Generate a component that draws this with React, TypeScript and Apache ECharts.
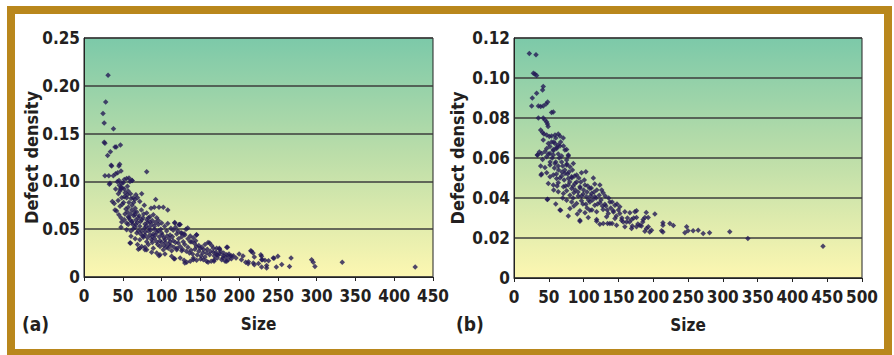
import { useEffect, useRef } from 'react';
import * as echarts from 'echarts';

// Chart (a): size vs defect density
const pointsA: [number, number][] = [
  [31, 0.211], [28, 0.183], [24.5, 0.171], [26, 0.161], [38, 0.155], [26, 0.141], [27, 0.14], [40, 0.136], [41.5, 0.136], [47, 0.138],
  [34, 0.131], [30.5, 0.127], [35, 0.117], [35.7, 0.116], [45, 0.116], [46, 0.118], [47.7, 0.111], [80.8, 0.11], [27, 0.106], [32, 0.106],
  [37.8, 0.106], [40.8, 0.108], [43.4, 0.109], [52, 0.102], [55, 0.103], [58, 0.1035], [62, 0.101], [45.1, 0.101], [48.6, 0.098], [33.5, 0.098],
  [32.7, 0.097], [42.9, 0.0997], [45.5, 0.096], [50.7, 0.0986], [59.3, 0.1], [61.9, 0.101],
  [40.8, 0.092], [47.7, 0.094], [52, 0.092], [56, 0.095], [46.4, 0.09], [44.3, 0.087], [47, 0.092], [49.4, 0.093],
  [36.5, 0.079], [39, 0.077], [48.6, 0.083], [52, 0.084], [55, 0.083], [60.6, 0.082], [63.6, 0.083], [65.7, 0.081], [69, 0.083], [74.4, 0.087], [92.4, 0.081],
  [40, 0.07], [42, 0.069], [46.4, 0.074], [49.4, 0.076], [57, 0.073], [61.5, 0.07], [65, 0.068], [77.8, 0.075], [86.4, 0.072], [90.7, 0.073], [96.7, 0.073], [102.3, 0.073], [108, 0.07],
  [45, 0.065], [47.7, 0.062], [52.8, 0.066], [57, 0.063], [59.3, 0.06], [65.7, 0.065], [70, 0.062], [74.4, 0.06], [80.8, 0.067], [83, 0.062], [89.4, 0.065], [93.7, 0.062],
  [48.6, 0.0575], [55, 0.0565], [57, 0.055], [61.5, 0.0575], [66.6, 0.055], [72, 0.053], [78.6, 0.0555], [85, 0.0575], [90.7, 0.053], [95.8, 0.055], [100, 0.0565], [117, 0.0565], [124, 0.055],
  [47.7, 0.052], [55, 0.0495], [60.6, 0.048], [63.6, 0.0505], [68, 0.046], [74.4, 0.048], [78.6, 0.044], [83, 0.048], [89.4, 0.045], [95.8, 0.048], [100, 0.046], [106.6, 0.048], [111, 0.044], [119.5, 0.045], [126, 0.046],
  [60.6, 0.0425], [66, 0.04], [72, 0.039], [76.5, 0.0415], [80.8, 0.037], [87.2, 0.039], [93.7, 0.037], [98, 0.038], [104.4, 0.039], [111, 0.037], [115, 0.038], [121.6, 0.0355], [128, 0.037],
  [59.3, 0.0355], [69, 0.034], [74.4, 0.032], [78.6, 0.031], [83, 0.034], [89.4, 0.03], [98, 0.032], [102.3, 0.0286], [108.7, 0.03], [113, 0.0275], [119.5, 0.0286], [126, 0.0275],
  [72, 0.03], [80.8, 0.0286], [87.2, 0.026], [93.7, 0.025], [98, 0.0234], [104.4, 0.024], [113, 0.0216], [117, 0.019], [124, 0.02],
  [60, 0.0356], [70, 0.029], [78.6, 0.0286], [96.7, 0.0223], [116, 0.019], [129, 0.0174], [141, 0.018], [160, 0.0153], [167.6, 0.0164], [184, 0.0164], [192.5, 0.0223],
  [117, 0.057], [123, 0.055], [131.5, 0.05], [145, 0.044], [162, 0.0356], [174.5, 0.03], [184, 0.031], [200, 0.024], [216, 0.027], [218, 0.025], [229, 0.0216], [229, 0.018], [244, 0.02], [229, 0.0105], [235.5, 0.012], [248, 0.0105],
  [122.5, 0.0547], [133.7, 0.0513], [145.2, 0.0443], [125, 0.046], [129, 0.0453], [137, 0.043], [139, 0.037], [142.5, 0.035], [145, 0.032], [150, 0.03], [154.5, 0.0286],
  [160, 0.036], [164.6, 0.033], [171, 0.03], [175, 0.029], [185, 0.031],
  [158, 0.025], [162, 0.0234], [166.7, 0.0258], [171, 0.0234], [175, 0.0244], [179.6, 0.0223], [184, 0.0234], [188, 0.0216], [190, 0.019], [186, 0.0181], [182, 0.0164], [177.5, 0.0181],
  [172, 0.0199], [168, 0.0181], [164, 0.0164], [158, 0.0164], [154, 0.0181], [150.4, 0.0188], [145.2, 0.0174], [141, 0.0199], [137, 0.0164], [132.4, 0.0153], [130, 0.0146],
  [205, 0.022], [218.3, 0.0146], [219.6, 0.0129], [211.6, 0.0139], [208.5, 0.0153], [219.6, 0.0209], [228, 0.0234], [230, 0.018], [233.3, 0.0174],
  [250, 0.0216], [265, 0.011], [267, 0.0199], [293.5, 0.0181], [295.6, 0.0153], [297.8, 0.011], [333, 0.0153], [427, 0.0105], [235.5, 0.0094], [245, 0.0195], [215, 0.0275],
  [58, 0.062], [62, 0.058], [64, 0.064], [67, 0.06], [69, 0.057], [71, 0.064], [73, 0.058], [76, 0.062], [78, 0.051], [80, 0.053], [82, 0.057], [84, 0.052], [86, 0.049], [87, 0.055],
  [88, 0.042], [91, 0.05], [92, 0.044], [94, 0.047], [97, 0.042], [99, 0.05], [101, 0.044], [103, 0.041], [105, 0.036], [107, 0.043], [109, 0.034], [110, 0.04], [112, 0.033], [114, 0.042],
  [116, 0.031], [118, 0.036], [120, 0.03], [122, 0.04], [124, 0.032], [127, 0.029], [130, 0.034], [132, 0.027], [134, 0.031], [136, 0.025], [138, 0.028], [140, 0.024], [143, 0.029],
  [146, 0.023], [148, 0.027], [151, 0.022], [153, 0.025], [156, 0.021], [63, 0.055], [66, 0.052], [70, 0.048], [73, 0.045], [76, 0.043], [79, 0.047], [82, 0.041], [85, 0.044],
  [88, 0.036], [91, 0.04], [95, 0.034], [100, 0.036], [103, 0.033], [106, 0.031], [52, 0.06], [54, 0.071], [56, 0.068], [58, 0.078], [60, 0.066], [62, 0.075], [66, 0.072], [68, 0.068],
  [53, 0.088], [56, 0.086], [51, 0.078], [44, 0.08], [57, 0.09], [60, 0.087], [64, 0.078], [67, 0.086], [72, 0.079], [74, 0.07], [77, 0.066], [81, 0.06], [85, 0.063], [88, 0.059],
  [92, 0.057], [96, 0.059], [104, 0.053], [108, 0.056], [112, 0.051], [115, 0.049], [118, 0.052], [121, 0.048], [126, 0.042], [130, 0.044], [134, 0.04], [137, 0.037], [141, 0.041],
  [144, 0.038], [148, 0.033], [152, 0.031], [156, 0.034], [159, 0.029], [163, 0.027], [167, 0.03], [170, 0.026], [173, 0.023], [176, 0.027], [180, 0.025], [183, 0.021], [187, 0.024],
  [190, 0.022], [179, 0.02], [168, 0.022], [196, 0.02], [203, 0.018], [212, 0.016], [225, 0.014], [238, 0.017], [255, 0.013],
];

// Chart (b): size vs defect density
const pointsB: [number, number][] = [
  [22, 0.1123], [31.6, 0.1116], [27.8, 0.1024], [30, 0.102], [32.5, 0.1013], [42, 0.0957], [41, 0.094], [32.5, 0.0924], [26.3, 0.09], [25.4, 0.086], [35, 0.086], [38.3, 0.0857],
  [42, 0.086], [48.3, 0.088], [46, 0.087], [54, 0.0827], [56.5, 0.083],
  [35, 0.08], [42, 0.08], [44.5, 0.079], [47, 0.078], [48, 0.077], [49, 0.0757],
  [38.3, 0.074], [41, 0.0727], [43, 0.072], [47, 0.0715], [50.7, 0.0707], [54, 0.071], [58.9, 0.0715], [63.6, 0.072], [66, 0.071], [70.8, 0.07],
  [42, 0.069], [49.3, 0.0673], [54, 0.068], [58.9, 0.0673], [63.6, 0.0665], [51.6, 0.0657], [47, 0.0648], [56.5, 0.0643], [61.2, 0.0653], [66, 0.066], [75.6, 0.0643],
  [33.5, 0.0615], [39.7, 0.0623], [44.5, 0.0632], [49.3, 0.062], [56.5, 0.0615], [63.6, 0.062], [68.4, 0.061], [78, 0.061],
  [36.4, 0.063], [41, 0.0593], [46.9, 0.0606], [51.7, 0.0623], [56.5, 0.0636], [61.2, 0.0648], [73.2, 0.064], [78, 0.0615], [75.6, 0.059],
  [38.3, 0.056], [44.5, 0.0553], [51.7, 0.0565], [58.9, 0.0573], [63.6, 0.056], [68.4, 0.058], [75.6, 0.0565], [80.4, 0.0556], [85.2, 0.0573],
  [39.7, 0.052], [47, 0.0526], [51.7, 0.0506], [56.5, 0.0515], [61.2, 0.0498], [68.4, 0.051], [73.2, 0.0523], [78, 0.0498], [82.8, 0.0506], [90, 0.0515], [97, 0.0526], [103.3, 0.0531],
  [49.3, 0.0473], [56.5, 0.0465], [63.6, 0.0476], [71, 0.0456], [78, 0.0465], [82.8, 0.0448], [87.6, 0.0473], [94.7, 0.0456], [102, 0.0465], [109, 0.0448], [116, 0.047], [123.4, 0.0465],
  [63.6, 0.0431], [71, 0.0423], [75.6, 0.0436], [80.4, 0.0414], [86, 0.0426], [92.3, 0.041], [99.5, 0.042], [104, 0.0406], [111.5, 0.0423], [116, 0.0406], [122.5, 0.0414], [128, 0.0426],
  [47.8, 0.0392], [75.6, 0.0389], [82.8, 0.038], [90, 0.0372], [97, 0.0386], [103.3, 0.0369], [109, 0.038], [116, 0.0364], [123.4, 0.0376], [130.6, 0.0369], [137.8, 0.038], [145, 0.0364], [152, 0.0356],
  [67, 0.0339], [80.4, 0.0347], [94.7, 0.0336], [102, 0.0326], [109, 0.0339], [118.7, 0.0331], [128, 0.0343], [135.4, 0.0322], [142.6, 0.0336], [152, 0.0322], [159.3, 0.0331], [166.5, 0.0326], [173.7, 0.0331],
  [94.7, 0.0289], [106.7, 0.0302], [118.7, 0.0292], [133, 0.0306], [145, 0.0297], [154.5, 0.0289], [161.7, 0.028], [169, 0.0292], [176, 0.0302], [185.6, 0.0292], [192.8, 0.0302],
  [123.4, 0.0269], [137.8, 0.0272], [147.4, 0.0264], [159.3, 0.0256], [168.9, 0.0247], [176, 0.0256], [180.9, 0.0264], [190.4, 0.0247],
  [202.4, 0.032], [214, 0.0276], [214, 0.0264], [224, 0.0272], [229, 0.0262], [212, 0.0236], [214, 0.023],
  [248, 0.0256], [250, 0.0236], [245.5, 0.0226], [257.4, 0.0236], [264.6, 0.0239], [271.8, 0.0222], [281, 0.0226], [310, 0.0231], [336, 0.0197], [444, 0.0159], [188, 0.0234], [197.6, 0.0239],
  [188, 0.0303], [190, 0.0327], [176, 0.0336], [193, 0.0256], [195, 0.023], [33.8, 0.0615], [38.8, 0.0515], [48.3, 0.0394], [66, 0.034], [78, 0.031], [94.7, 0.0284], [118.7, 0.0284],
  [128.2, 0.0272], [134.4, 0.0272], [141, 0.0272],
  [58, 0.055], [61, 0.052], [64, 0.054], [66, 0.05], [69, 0.053], [72, 0.049], [74, 0.046], [77, 0.052], [80, 0.048], [83, 0.05], [85, 0.046], [88, 0.044], [90, 0.048], [92, 0.043],
  [95, 0.045], [97, 0.041], [100, 0.044], [105, 0.043], [107, 0.039], [110, 0.041], [113, 0.039], [115, 0.043], [118, 0.04], [120, 0.037], [125, 0.039], [127, 0.036], [132, 0.036],
  [134, 0.034], [139, 0.035], [143, 0.033], [147, 0.031], [150, 0.034], [155, 0.03], [157, 0.028], [163, 0.03], [166, 0.028], [170, 0.026], [172, 0.03], [178, 0.027], [183, 0.026],
  [185, 0.028], [60, 0.058], [65, 0.06], [70, 0.056], [73, 0.054], [76, 0.057], [79, 0.053], [84, 0.054], [87, 0.051], [93, 0.05], [96, 0.048], [101, 0.049], [106, 0.046], [111, 0.045],
  [114, 0.05], [119, 0.044], [126, 0.044], [131, 0.041], [136, 0.04], [141, 0.038], [148, 0.037], [55, 0.06], [52, 0.058], [57, 0.068], [60, 0.07], [67, 0.068], [71, 0.066], [62, 0.046],
  [57, 0.044], [70, 0.04], [85, 0.04], [99, 0.037], [105, 0.035], [112, 0.034], [86, 0.036], [91, 0.032], [60, 0.037],
];

const xMaxA = 450;
const xMaxB = 500;
const xStep = 50;
const yMaxA = 0.25;
const yStepA = 0.05;
const yMaxB = 0.12;
const yStepB = 0.02;
const panelLabels = ['(a)', '(b)'];
const xName = 'Size';
const yName = 'Defect density';

const FONT = "'DejaVu Sans Condensed', 'Liberation Sans Narrow', sans-serif";
const INK = '#231f20';
const DOT = '#241a56';

function plotBg() {
  return new echarts.graphic.LinearGradient(0, 0, 0, 1, [
    { offset: 0, color: '#7cc9a9' },
    { offset: 0.5, color: '#bddea9' },
    { offset: 1, color: '#fdf7b1' },
  ]);
}

const yFmt = (v: number) => (Math.abs(v) < 1e-9 ? '0' : v.toFixed(2));

function xAxisCfg(gridIndex: number, max: number) {
  return {
    gridIndex,
    type: 'value',
    min: 0,
    max,
    interval: xStep,
    axisLine: { show: true, lineStyle: { color: '#222', width: 1 } },
    axisTick: { show: true, length: 4, lineStyle: { color: '#222', width: 1 } },
    splitLine: { show: false },
    axisLabel: {
      fontFamily: FONT, fontWeight: 'bold', fontSize: 17, color: INK, margin: 10,
      showMinLabel: true, showMaxLabel: true, hideOverlap: false,
    },
    name: xName,
    nameLocation: 'middle',
    nameGap: 38,
    nameMoveOverlap: false,
    nameTextStyle: { fontFamily: FONT, fontWeight: 'bold', fontSize: 17, color: INK },
  };
}

function yAxisCfg(gridIndex: number, max: number, step: number, gap: number) {
  return {
    gridIndex,
    type: 'value',
    min: 0,
    max,
    interval: step,
    axisLine: { show: true, lineStyle: { color: '#222', width: 1 } },
    axisTick: { show: false },
    splitLine: { show: true, lineStyle: { color: '#3d3d3d', width: 1.5 } },
    axisLabel: {
      fontFamily: FONT, fontWeight: 'bold', fontSize: 17, color: INK, margin: 4, formatter: yFmt,
      showMinLabel: true, showMaxLabel: true,
    },
    name: yName,
    nameLocation: 'middle',
    nameGap: gap,
    nameRotate: 90,
    nameMoveOverlap: false,
    nameTextStyle: { fontFamily: FONT, fontWeight: 'bold', fontSize: 18, color: INK },
  };
}

export default function App() {
  const ref = useRef<HTMLDivElement>(null);
  useEffect(() => {
    if (!ref.current) return;
    const chart = echarts.init(ref.current, null, { renderer: 'svg' });
    chart.setOption({
      animation: false,
      backgroundColor: '#ffffff',
      grid: [
        { left: 84, top: 38, width: 349, height: 239, show: true, backgroundColor: plotBg(), borderColor: '#222', borderWidth: 1 },
        { left: 514, top: 38, width: 348, height: 240, show: true, backgroundColor: plotBg(), borderColor: '#222', borderWidth: 1 },
      ],
      xAxis: [xAxisCfg(0, xMaxA), xAxisCfg(1, xMaxB)],
      yAxis: [yAxisCfg(0, yMaxA, yStepA, 44), yAxisCfg(1, yMaxB, yStepB, 48)],
      series: [
        { type: 'scatter', xAxisIndex: 0, yAxisIndex: 0, data: pointsA, symbol: 'diamond', symbolSize: 5.5, itemStyle: { color: DOT } },
        { type: 'scatter', xAxisIndex: 1, yAxisIndex: 1, data: pointsB, symbol: 'diamond', symbolSize: 5.5, itemStyle: { color: DOT } },
      ],
      graphic: [
        {
          type: 'rect',
          shape: { x: 11, y: 10, width: 877, height: 343 },
          style: { fill: 'none', stroke: '#b9871c', lineWidth: 8 },
          silent: true,
        },
        {
          type: 'text',
          x: 22,
          y: 324,
          style: { text: panelLabels[0], font: `bold 19px ${FONT}`, fill: INK, verticalAlign: 'middle' },
        },
        {
          type: 'text',
          x: 456,
          y: 324,
          style: { text: panelLabels[1], font: `bold 19px ${FONT}`, fill: INK, verticalAlign: 'middle' },
        },
      ],
    });
    return () => chart.dispose();
  }, []);
  return <div ref={ref} style={{ position: 'absolute', left: 0, top: 0, width: 894, height: 355 }} />;
}
